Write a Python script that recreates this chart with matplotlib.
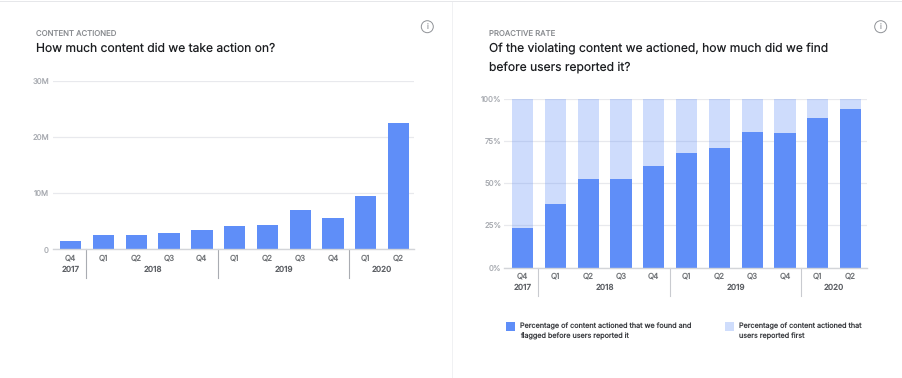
"""Two quarterly bar panels: content actioned and proactive rate."""
import matplotlib
matplotlib.use("Agg")
import matplotlib.pyplot as plt
from matplotlib.patches import Circle, Rectangle

W, H = 902, 378
plt.rcParams["font.family"] = ["Inter", "DejaVu Sans"]
plt.rcParams["text.hinting"] = "none"
plt.rcParams["text.hinting_factor"] = 1

quarters = ["Q4", "Q1", "Q2", "Q3", "Q4", "Q1", "Q2", "Q3", "Q4", "Q1", "Q2"]
years = ["2017", "2018", "2019", "2020"]
year_spans = [(0, 0), (1, 4), (5, 8), (9, 10)]
actioned = [1.6, 2.5, 2.5, 2.9, 3.4, 4.1, 4.4, 7.0, 5.6, 9.5, 22.5]
found_first = [23.6, 37.9, 52.5, 52.5, 60.4, 68.1, 70.9, 80.2, 79.8, 88.5, 94.2]
users_first = [76.4, 62.1, 47.5, 47.5, 39.6, 31.9, 29.1, 19.8, 20.2, 11.5, 5.8]
legend_labels = ["Percentage of content actioned that we found and\nflagged before users reported it",
                 "Percentage of content actioned that\nusers reported first"]

BLUE = "#5f8ef8"
PALE = "#cfddfc"
GRID = "#e8e9ed"
INK = "#1c1e21"
GREY = "#8a8d91"
TICK = "#6f7276"
YEAR = "#5c5f64"


def px_axes(fig, x0, x1, y_top, y_bot):
    return fig.add_axes([x0 / W, 1 - y_bot / H, (x1 - x0) / W, (y_bot - y_top) / H])


def style(ax, ticks, labels, top, xlim, sep_color, ypad):
    n = len(quarters)
    ax.set_xlim(*xlim); ax.set_ylim(0, top)
    for s in ["top", "right", "left"]:
        ax.spines[s].set_visible(False)
    ax.spines["bottom"].set_color("#d3d5d9"); ax.spines["bottom"].set_linewidth(1.0)
    ax.set_yticks(ticks); ax.set_yticklabels(labels, fontsize=5.6, color="#a9acb2")
    ax.set_xticks(range(n)); ax.set_xticklabels(quarters, fontsize=5.8, color=TICK)
    ax.tick_params(axis="both", length=0)
    ax.tick_params(axis="y", pad=ypad); ax.tick_params(axis="x", pad=3.2)
    ax.grid(axis="y", color=GRID, lw=0.9); ax.set_axisbelow(True)
    tr = ax.get_xaxis_transform()
    h = ax.get_position().height * H
    for yr, (a, b) in zip(years, year_spans):
        ax.text((a + b) / 2, -20 / h, yr, transform=tr, ha="center", va="center",
                fontsize=5.8, color=YEAR, fontweight="medium")
        if b < n - 1:
            ax.plot([b + 0.48, b + 0.48], [0, -28.5 / h], transform=tr, color=sep_color,
                    lw=0.8, clip_on=False)


def info_icon(fig, cx, cy):
    fig.add_artist(Circle((cx, H - cy), 6, transform=tr_px, fill=False, ec="#8f9297", lw=0.7))
    fig.text(cx / W, 1 - cy / H, "i", ha="center", va="center", fontsize=5.5, color="#9a9da2")


fig = plt.figure(figsize=(W / 100, H / 100), dpi=100, facecolor="white")
tr_px = matplotlib.transforms.Affine2D().scale(1.0)

# page furniture
fig.add_artist(Rectangle((0, H - 2), W, 1.2, transform=tr_px, fc="#e6e7ea", ec="none"))
fig.add_artist(Rectangle((451.8, 0), 1, H - 2, transform=tr_px, fc="#f0f1f3", ec="none"))

# left panel
ax = px_axes(fig, 53, 414, 81, 249.5)
ax.bar(range(len(quarters)), actioned, width=0.65, color=BLUE)
style(ax, [0, 10, 20, 30], ["0", "10M", "20M", "30M"], 30, (-0.54, 10.47), "#a9acb2", 2.9)
fig.text(35.5 / W, 1 - 33.7 / H, "CONTENT ACTIONED", fontsize=5.6, color=GREY, va="center")
fig.text(35.5 / W, 1 - 48.5 / H, "How much content did we take action on?", fontsize=8.7, color=INK, va="center")
info_icon(fig, 427.3, 26.7)

# right panel
ax2 = px_axes(fig, 504.3, 867, 99, 267.5)
ax2.bar(range(len(quarters)), found_first, width=0.65, color=BLUE)
ax2.bar(range(len(quarters)), users_first, width=0.65, bottom=found_first, color=BLUE, alpha=0.3)
style(ax2, [0, 25, 50, 75, 100], ["0%", "25%", "50%", "75%", "100%"], 100, (-0.56, 10.5), "#c9cbd0", 2)
fig.text(488.5 / W, 1 - 33.7 / H, "PROACTIVE RATE", fontsize=5.6, color=GREY, va="center")
fig.text(488.5 / W, 1 - 48.5 / H, "Of the violating content we actioned, how much did we find",
         fontsize=8.7, color=INK, va="center")
fig.text(488.5 / W, 1 - 66.7 / H, "before users reported it?", fontsize=8.7, color=INK, va="center")
info_icon(fig, 880.7, 26.7)

# legend
for x, col, lab in zip([506, 725], [BLUE, PALE], legend_labels):
    fig.add_artist(Rectangle((x, H - 330.5), 9, 9, transform=tr_px, fc=col, ec="none"))
    fig.text((x + 13.7) / W, 1 - 322.3 / H, lab, fontsize=5.2, color="#3a3c40", va="top", linespacing=1.5)

fig.savefig("out.png", dpi=100)
